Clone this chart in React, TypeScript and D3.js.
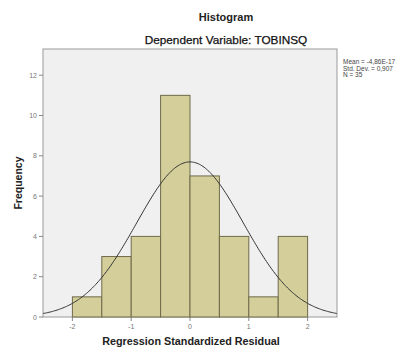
import React from 'react';
import * as d3 from 'd3';

const binEdges = [-2, -1.5, -1, -0.5, 0, 0.5, 1, 1.5, 2];
const counts = [1, 3, 4, 11, 7, 4, 1, 4];
const xTicks = [-2, -1, 0, 1, 2];
const yTicks = [0, 2, 4, 6, 8, 10, 12];
const stats = ['Mean = -4,86E-17', 'Std. Dev. = 0,907', 'N = 35'];
const mean = 0;
const sd = 0.907;
const n = 35;

const W = 401;
const H = 350;
const m = { left: 43, right: 64, top: 49, bottom: 33 };

export default function App() {
  const x = d3.scaleLinear().domain([-2.5, 2.5]).range([m.left, W - m.right]);
  const y = d3.scaleLinear().domain([0, 13.3]).range([H - m.bottom, m.top]);
  const bw = binEdges[1] - binEdges[0];

  const curvePts = d3.range(-2.5, 2.5001, 0.02).map((v) => {
    const pdf = Math.exp(-((v - mean) ** 2) / (2 * sd * sd)) / (sd * Math.sqrt(2 * Math.PI));
    return [v, n * bw * pdf] as [number, number];
  });
  const line = d3.line<[number, number]>().x((d) => x(d[0])).y((d) => y(d[1])).curve(d3.curveBasis);

  const font = '"Liberation Sans", Arial, sans-serif';

  return (
    <svg width={W} height={H} style={{ position: 'absolute', left: 0, top: 0, background: '#fff' }} fontFamily={font}>
      <text x={226} y={21} textAnchor="middle" fontSize={11} fontWeight="bold" fill="#222">Histogram</text>
      <text x={226} y={44} textAnchor="middle" fontSize={11.8} fill="#111" stroke="#111" strokeWidth={0.25}>Dependent Variable: TOBINSQ</text>

      <rect x={m.left} y={m.top} width={W - m.left - m.right} height={H - m.top - m.bottom} fill="#f0f0f0" stroke="#9a9a9a" strokeWidth={1} />

      {counts.map((c, i) => (
        <rect key={i} x={x(binEdges[i])} y={y(c)} width={x(binEdges[i + 1]) - x(binEdges[i])} height={y(0) - y(c)}
          fill="#d4cf9a" stroke="#6e6a4a" strokeWidth={1} />
      ))}

      <path d={line(curvePts) || ''} fill="none" stroke="#333" strokeWidth={1} />

      {yTicks.map((t) => (
        <g key={t}>
          <line x1={m.left - 4} x2={m.left} y1={y(t)} y2={y(t)} stroke="#888" />
          <text x={m.left - 6} y={y(t) + 2.5} textAnchor="end" fontSize={7} fill="#777">{t}</text>
        </g>
      ))}
      {xTicks.map((t) => (
        <g key={t}>
          <line x1={x(t)} x2={x(t)} y1={H - m.bottom} y2={H - m.bottom + 4} stroke="#888" />
          <text x={x(t)} y={H - m.bottom + 12} textAnchor="middle" fontSize={7} fill="#777">{t}</text>
        </g>
      ))}

      <text x={191} y={345} textAnchor="middle" fontSize={10.8} fontWeight="bold" fill="#222">Regression Standardized Residual</text>
      <text transform={`translate(22,${(m.top + H - m.bottom) / 2}) rotate(-90)`} textAnchor="middle" fontSize={10.5} fontWeight="bold" fill="#222">Frequency</text>

      {stats.map((s, i) => (
        <text key={i} x={343} y={64 + i * 6.5} fontSize={6.5} fill="#444">{s}</text>
      ))}
    </svg>
  );
}
